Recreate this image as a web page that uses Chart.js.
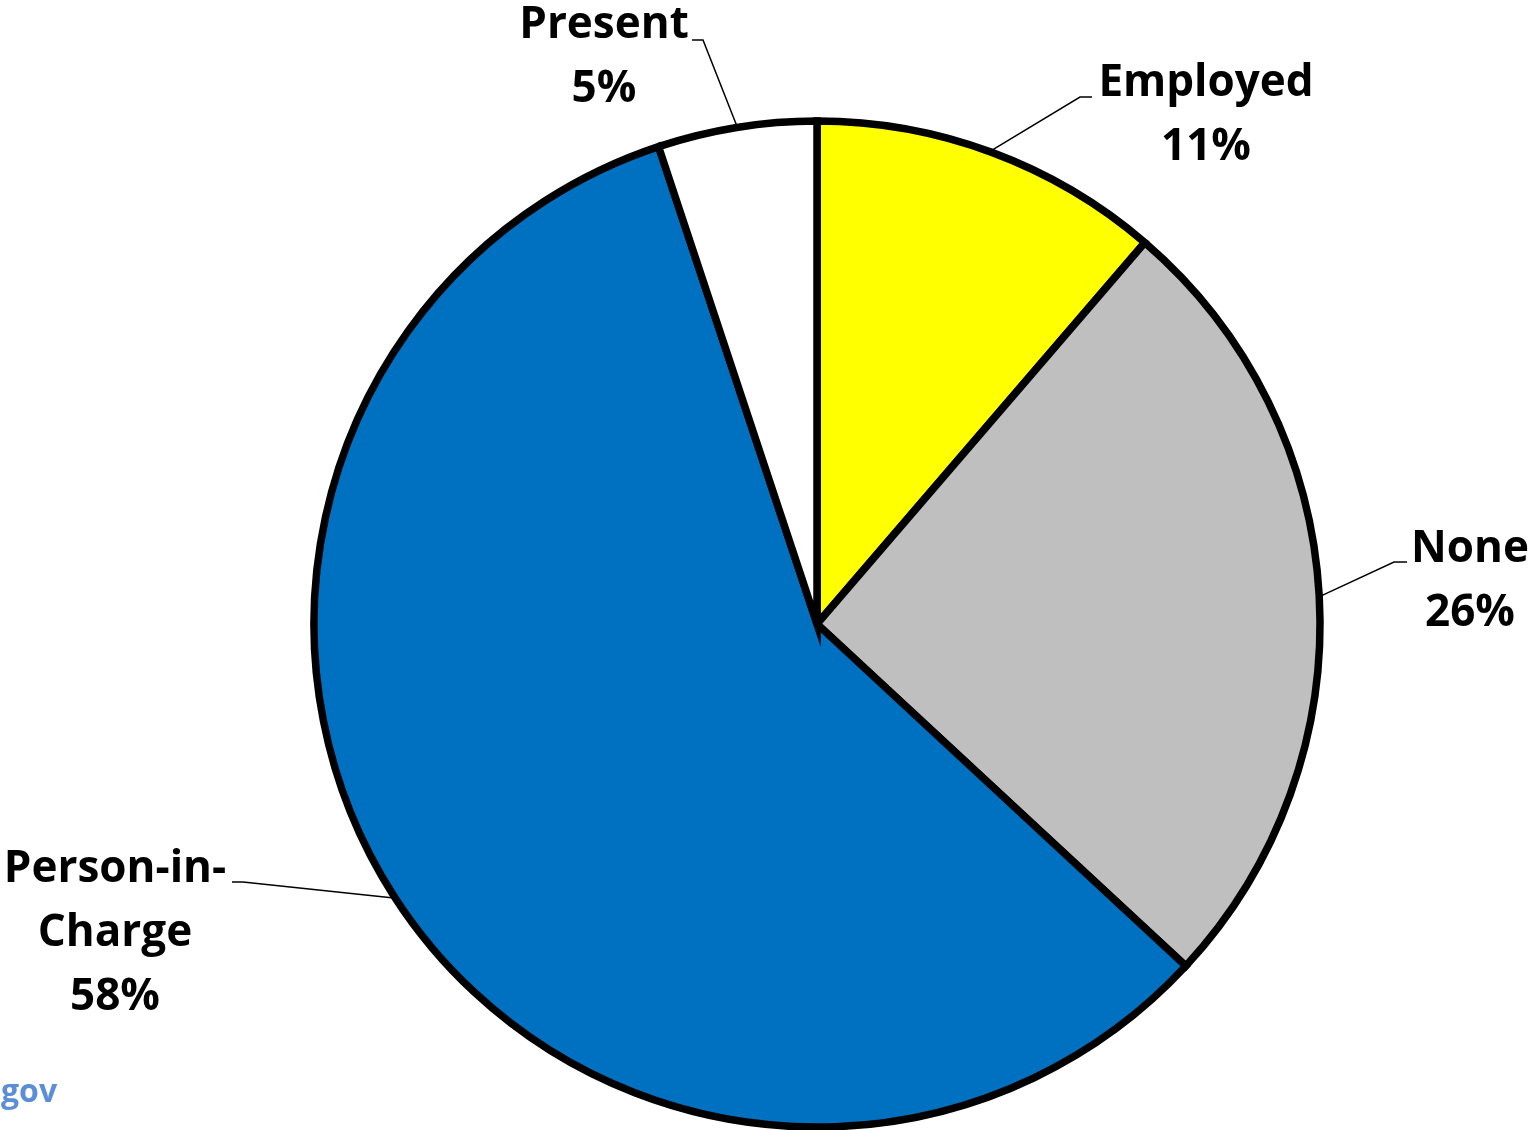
<!DOCTYPE html>
<html>
<head>
<meta charset="utf-8">
<script src="https://cdn.jsdelivr.net/npm/chart.js@4/dist/chart.umd.min.js"></script>
<style>
  html, body { margin: 0; padding: 0; background: #ffffff; }
  #wrap { position: relative; width: 1530px; height: 1130px; overflow: hidden; }
  #gov { position: absolute; left: 1px; top: 1068px; font: bold 32px "Open Sans", sans-serif; color: #5B8ED6; }
</style>
</head>
<body>
<div id="wrap">
  <canvas id="pie" width="1530" height="1130"></canvas>
  <div id="gov">gov</div>
</div>
<script>
// data (clockwise from 12 o'clock)
const categories = ["Employed", "None", "Person-in-Charge", "Present"];
const labelLines = [["Employed"], ["None"], ["Person-in-", "Charge"], ["Present"]];
const shares = [11.3, 25.6, 58.0, 5.1];
const sliceColors = ["#FFFF00", "#BFBFBF", "#0070C0", "#FFFFFF"];

// where each label sits: text centre x, first baseline y, elbow point, end of the short horizontal tick
const labelLayout = [
  { cx: 1206, y: 96,  elbow: [1080, 97],  tick: 1092 },
  { cx: 1470, y: 562, elbow: [1394, 562], tick: 1407 },
  { cx: 115,  y: 882, elbow: [243, 882],  tick: 232 },
  { cx: 604,  y: 38,  elbow: [703, 40],   tick: 692 }
];

const total = shares.reduce((a, b) => a + b, 0);

const leaderLabels = {
  id: "leaderLabels",
  afterDatasetsDraw(chart) {
    const ctx = chart.ctx;
    const arcs = chart.getDatasetMeta(0).data;
    ctx.save();
    arcs.forEach((arc, i) => {
      const p = arc.getProps(["x", "y", "startAngle", "endAngle", "outerRadius"], true);
      const mid = (p.startAngle + p.endAngle) / 2;
      const r = p.outerRadius + 3;
      const ax = p.x + Math.cos(mid) * r;
      const ay = p.y + Math.sin(mid) * r;
      const lay = labelLayout[i];

      ctx.strokeStyle = "#000000";
      ctx.lineWidth = 1.5;
      ctx.beginPath();
      ctx.moveTo(ax, ay);
      ctx.lineTo(lay.elbow[0], lay.elbow[1]);
      ctx.lineTo(lay.tick, lay.elbow[1]);
      ctx.stroke();

      const lines = labelLines[i].concat([Math.round(shares[i] / total * 100) + "%"]);
      ctx.fillStyle = "#000000";
      ctx.font = "bold 44px 'Open Sans', sans-serif";
      ctx.textAlign = "center";
      ctx.textBaseline = "alphabetic";
      lines.forEach((t, k) => {
        ctx.fillText(t, lay.cx, lay.y + k * 64);
      });
    });
    ctx.restore();
  }
};

new Chart(document.getElementById("pie"), {
  type: "pie",
  data: {
    labels: categories,
    datasets: [{
      data: shares,
      backgroundColor: sliceColors,
      borderColor: "#000000",
      borderWidth: 7.5,
      borderJoinStyle: "miter"
    }]
  },
  options: {
    responsive: false,
    animation: false,
    radius: 503,
    layout: { padding: { left: 312, right: 208, top: 119, bottom: 1 } },
    plugins: {
      legend: { display: false },
      tooltip: { enabled: false }
    }
  },
  plugins: [leaderLabels]
});
</script>
</body>
</html>
